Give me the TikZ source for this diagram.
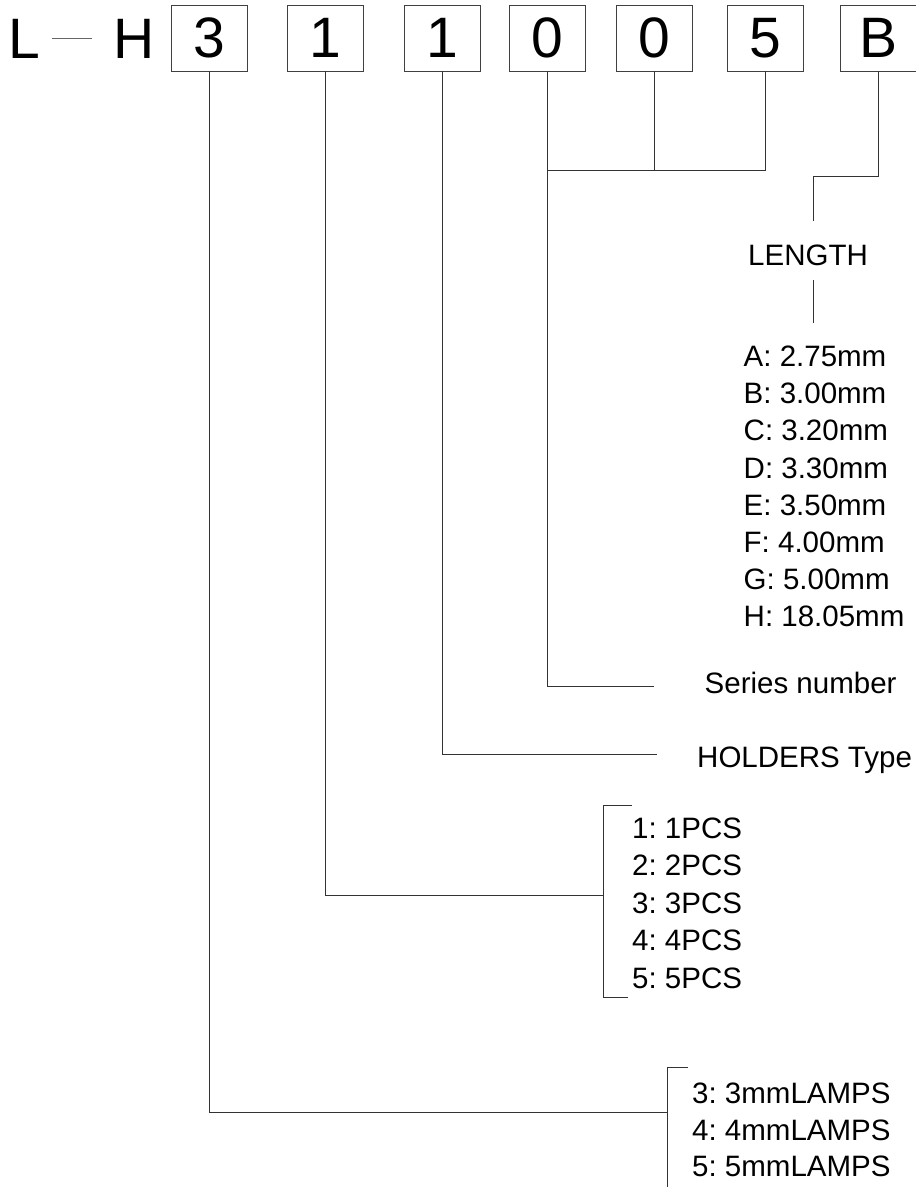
\documentclass[tikz,border=0pt]{standalone}
\usepackage{fontspec}
\setmainfont{Liberation Sans}
\frenchspacing
\begin{document}
\begin{tikzpicture}[x=1pt,y=-1pt,
  digitbox/.style={draw=black!75, line width=0.9pt, minimum width=76pt, minimum height=66pt, inner sep=0pt, font=\fontsize{57}{57}\selectfont},
  big/.style={anchor=base west, inner sep=0pt, font=\fontsize{57}{57}\selectfont},
  wire/.style={draw=black!80, line width=0.9pt},
  lbl/.style={anchor=base west, inner sep=0pt, font=\fontsize{29.5}{37}\selectfont\frenchspacing}]
\useasboundingbox (0,0) rectangle (916,1187);
\fill[white] (0,0) rectangle (916,1187);

% head letters
\node[big] (L) at (8,58) {L};
\node[big] (H) at (113.5,58) {H};
\draw[wire, draw=black!60] ([xshift=12pt]L.east) -- ([xshift=-22pt]H.west);

% digit boxes
\node[digitbox] (d1) at (209,38) {3};
\node[digitbox] (d2) at (325,38) {1};
\node[digitbox] (d3) at (442,38) {1};
\node[digitbox] (d4) at (547.5,38) {0};
\node[digitbox] (d5) at (654,38) {0};
\node[digitbox] (d6) at (765,38) {5};
\node[digitbox] (d7) at (878.5,38) {B};

% labels
\node[lbl] (len) at (748,265) {LENGTH};
\foreach \t [count=\i from 0] in {A: 2.75mm,B: 3.00mm,C: 3.20mm,D: 3.30mm,E: 3.50mm,F: 4.00mm,G: 5.00mm,H: 18.05mm}
  \node[lbl] (len\i) at (743.5,366.7+37.1*\i) {\t};
\node[lbl] (ser) at (704.5,693) {Series number};
\node[lbl] (hol) at (697,767) {HOLDERS Type};
\foreach \t [count=\i from 0] in {1: 1PCS,2: 2PCS,3: 3PCS,4: 4PCS,5: 5PCS}
  \node[lbl] (pcs\i) at (632,838+37.5*\i) {\t};
\foreach \t [count=\i from 0] in {3: 3mmLAMPS,4: 4mmLAMPS,5: 5mmLAMPS}
  \node[lbl] (lamp\i) at (692,1103.3+36.7*\i) {\t};

% connector coordinates
\coordinate (joinY) at (0,170);
\coordinate (bKnee) at (813,176);
\coordinate (bEnd) at (813,221);
\coordinate (lenA) at (813,280);
\coordinate (lenB) at (813,323);
\coordinate (serJ) at (654,686);
\coordinate (holJ) at (657,754);
\coordinate (pcsTop) at (632,805);
\coordinate (pcsBot) at (603,997);
\coordinate (pcsEnd) at (628,997);
\coordinate (pcsJ) at (603,895);
\coordinate (lampTop) at (688,1067);
\coordinate (lampBot) at (667,1187);
\coordinate (lampJ) at (667,1112);

% connectors
\draw[wire] (d4.south |- joinY) -| (d6.south);
\draw[wire] (d5.south) -- (d5.south |- joinY);
\draw[wire] (d4.south) |- (serJ);
\draw[wire] (d7.south) |- (bKnee) -- (bEnd);
\draw[wire] (lenA) -- (lenB);
\draw[wire] (d3.south) |- (holJ);
\draw[wire] (d2.south) |- (pcsJ);
\draw[wire] (pcsTop) -| (pcsBot) -- (pcsEnd);
\draw[wire] (d1.south) |- (lampJ);
\draw[wire] (lampTop) -| (lampBot);
\end{tikzpicture}
\end{document}
